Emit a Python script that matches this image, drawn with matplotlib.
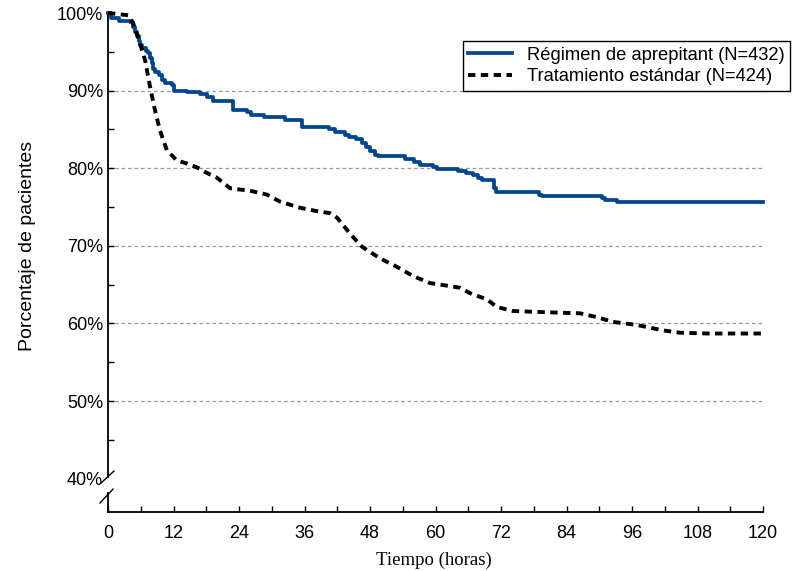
import matplotlib
matplotlib.use('Agg')
import matplotlib.pyplot as plt
from matplotlib.ticker import MultipleLocator, FixedLocator

plt.rcParams['font.family'] = ['Liberation Sans', 'DejaVu Sans']

# Régimen de aprepitant (escalones)
t_aprep = [0, 0.5, 2.0, 4.0, 4.6, 5.0, 5.3, 5.6, 5.9, 6.3, 6.9, 7.3, 7.7, 8.0,
           8.3, 8.7, 9.3, 9.9, 10.4, 11.7, 12.0, 14.5, 16.9, 18.2, 19.3, 22.9,
           25.5, 26.2, 28.5, 32.5, 35.5, 40.5, 41.5, 43.5, 44.2, 45.5, 46.5,
           47.3, 48.0, 48.9, 49.5, 54.5, 56.0, 57.2, 59.6, 60.3, 64.2, 65.5,
           66.8, 67.8, 68.5, 70.8, 71.1, 79.0, 79.5, 90.5, 91.0, 93.3, 120]
y_aprep = [100, 99.4, 99.0, 98.8, 98.2, 97.6, 97.0, 96.4, 95.9, 95.5, 95.1, 94.8,
           94.2, 93.5, 92.8, 92.4, 92.0, 91.4, 91.0, 90.7, 90.0, 89.8, 89.6,
           89.2, 88.6, 87.5, 87.2, 86.9, 86.6, 86.2, 85.3, 85.0, 84.7, 84.3,
           84.0, 83.7, 83.2, 82.7, 82.2, 81.7, 81.6, 81.2, 80.8, 80.4, 80.2,
           79.9, 79.7, 79.4, 79.1, 78.8, 78.5, 77.5, 76.9, 76.6, 76.4, 76.1,
           75.9, 75.7, 75.7]

# Tratamiento estándar
t_std = [0, 3.8, 4.6, 5.5, 6.8, 7.7, 8.6, 9.5, 10.8, 12.6, 14.5, 16.3, 18.1, 19.9,
         22.4, 26.0, 29.1, 31.5, 35.2, 38.0, 40.7, 42.0, 44.3, 46.5, 49.8, 52.9,
         55.9, 59.0, 62.7, 64.5, 66.3, 69.4, 71.3, 74.2, 77.9, 86.5, 89.6, 92.5,
         96.9, 101.7, 104.8, 110, 120]
y_std = [100, 99.7, 98.7, 96.9, 93.9, 90.5, 87.5, 84.9, 82.3, 81.0, 80.6, 80.1,
         79.4, 78.8, 77.4, 77.1, 76.6, 75.7, 74.9, 74.5, 74.2, 73.6, 71.6, 69.9,
         68.4, 67.3, 66.1, 65.2, 64.8, 64.6, 63.9, 63.1, 62.1, 61.6, 61.5, 61.3,
         60.8, 60.2, 59.8, 59.1, 58.8, 58.7, 58.7]

labels = ['Régimen de aprepitant (N=432)', 'Tratamiento estándar (N=424)']
x_ticks = list(range(0, 121, 12))
y_ticks = [40, 50, 60, 70, 80, 90, 100]
y_grid = [50, 60, 70, 80, 90]

W, H = 795, 571
fig = plt.figure(figsize=(7.95, 5.71), dpi=100)
ax = fig.add_axes([108 / W, 1 - 512 / H, 655 / W, 499 / H])

for g in y_grid:
    ax.axhline(g, color='#9a9a9a', lw=0.9, ls=(0, (3, 2.2)), zorder=1)

ax.plot(t_aprep, y_aprep, drawstyle='steps-post', color='#00468c', lw=2.7,
        label=labels[0], clip_on=False, zorder=3)
ax.plot(t_std, y_std, color='black', lw=2.8, ls=(0, (1.9, 1.4)),
        label=labels[1], clip_on=False, zorder=3)

ax.set_xlim(0, 120)
ax.set_ylim(35.7, 100)

ax.xaxis.set_major_locator(FixedLocator(x_ticks))
ax.xaxis.set_minor_locator(MultipleLocator(6))
ax.yaxis.set_major_locator(FixedLocator(y_ticks))
ax.yaxis.set_minor_locator(FixedLocator([45, 55, 65, 75, 85, 95]))
ax.set_yticklabels([f'{v}%' for v in y_ticks])

ax.tick_params(axis='both', which='both', direction='in', length=4.3, width=1,
               labelsize=13, color='black')
ax.tick_params(axis='x', pad=9.5)
ax.tick_params(axis='y', pad=3.5)
for tk in ax.yaxis.get_major_ticks():
    if tk.get_loc() == 40:
        tk.tick1line.set_visible(False)
        tk.label1.set_y(39.4)

for s in ['top', 'right', 'left']:
    ax.spines[s].set_visible(False)
ax.spines['bottom'].set_linewidth(1.3)

# eje y con corte
tr = ax.get_yaxis_transform()
ax.plot([0, 0], [100, 40.2], color='black', lw=1.3, transform=tr, clip_on=False)
ax.plot([0, 0], [38.1, 35.7], color='black', lw=1.3, transform=tr, clip_on=False)
ax.plot([-7 / 655, 6 / 655], [39.43, 40.98], color='black', lw=1, transform=tr, clip_on=False)
ax.plot([-8 / 655, 5 / 655], [36.86, 38.66], color='black', lw=1, transform=tr, clip_on=False)

fig.text(28 / W, 1 - 246 / H, 'Porcentaje de pacientes', rotation=90,
         ha='center', va='center', fontsize=14)
fig.text(434 / W, 1 - 560 / H, 'Tiempo (horas)', ha='center', va='center',
         fontsize=13.5, family=['Liberation Serif', 'DejaVu Serif'])

leg = ax.legend(loc='upper right', bbox_to_anchor=(790 / W, 1 - 41 / H),
                bbox_transform=fig.transFigure, borderaxespad=0, fontsize=13.2,
                fancybox=False, framealpha=1, edgecolor='black',
                handlelength=2.4, handletextpad=0.8, borderpad=0.3,
                labelspacing=0.25)
leg.get_frame().set_linewidth(1)

fig.savefig('out.png', dpi=100)
